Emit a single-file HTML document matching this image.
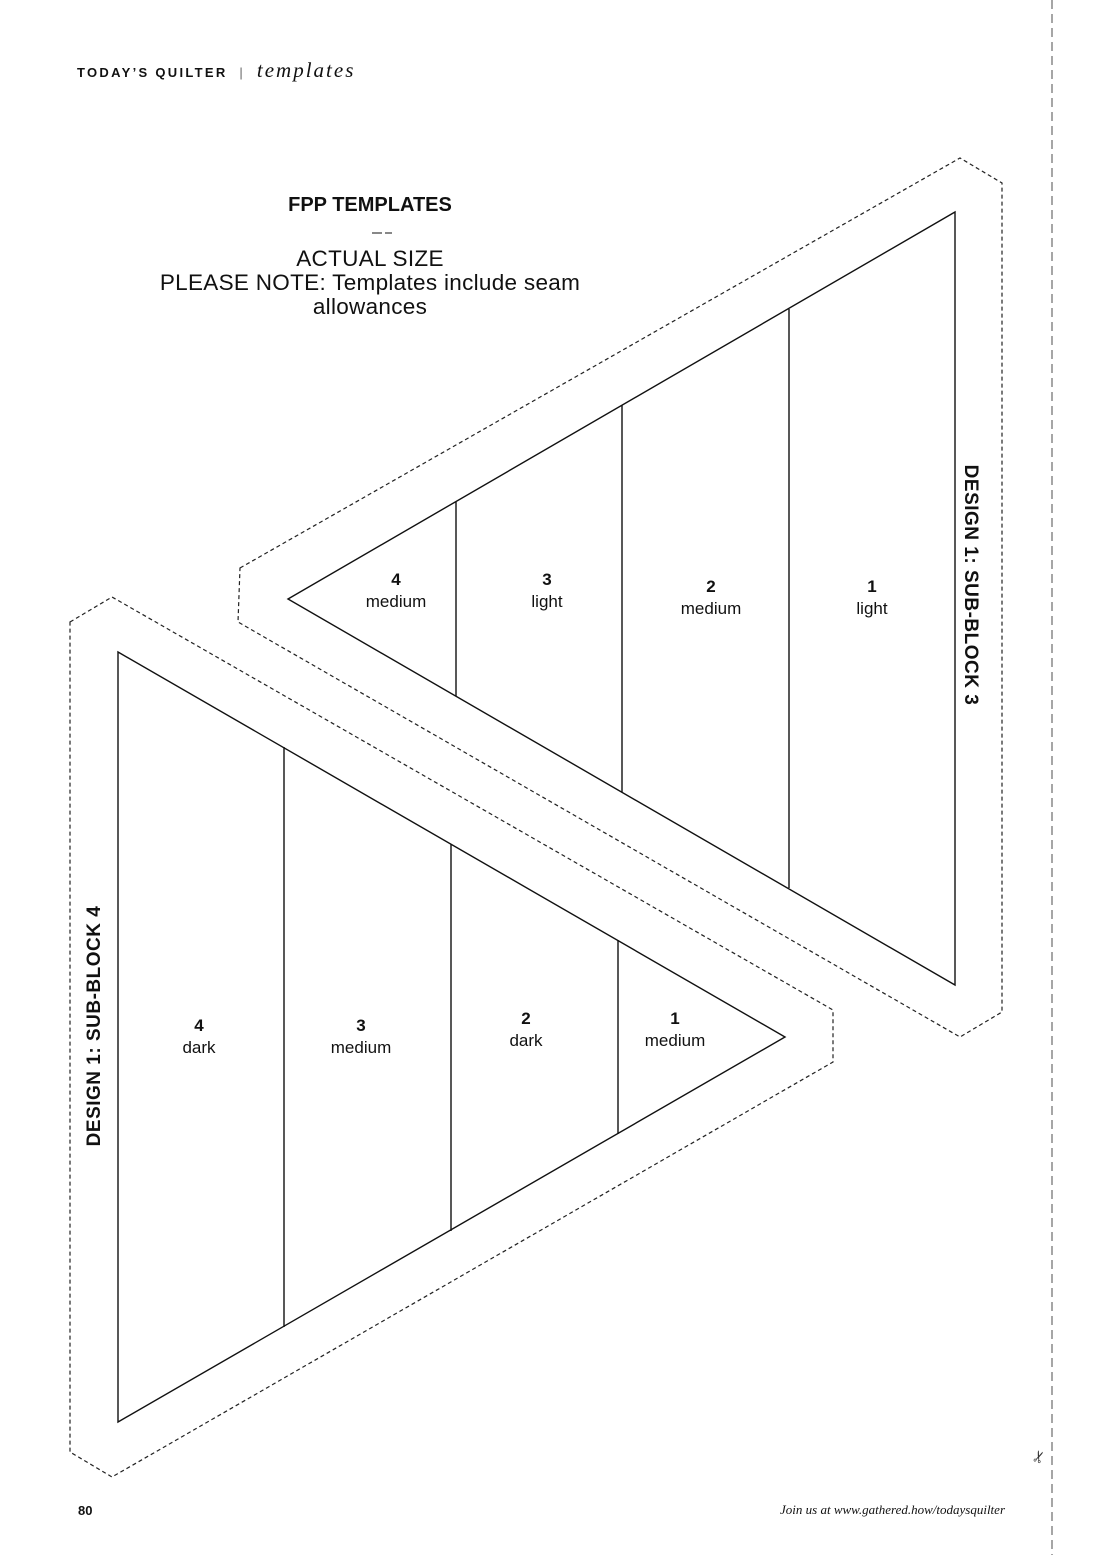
<!DOCTYPE html>
<html><head><meta charset="utf-8"><style>
body{margin:0;width:1100px;height:1555px;background:#fff;overflow:hidden;position:relative;font-family:"Liberation Sans",sans-serif;color:#111}
.t{position:absolute;white-space:nowrap}
</style></head><body>
<svg width="1100" height="1555" style="position:absolute;left:0;top:0">
<line x1="1052" y1="0" x2="1052" y2="1555" stroke="#888" stroke-width="1.5" stroke-dasharray="9,5"/>
<g fill="none" stroke="#222" stroke-width="1.2" stroke-dasharray="4,3">
<polygon points="240,568 960,158 1002,183 1002,1012 960,1037 238,622"/>
<polygon points="70,622 112,597 833,1010 833,1062 112,1477 70,1452"/>
</g>
<g fill="none" stroke="#111" stroke-width="1.4">
<polygon points="288,599 955,212 955,985"/>
<line x1="456" y1="502" x2="456" y2="696"/>
<line x1="622" y1="405" x2="622" y2="792"/>
<line x1="789" y1="309" x2="789" y2="888"/>
<polygon points="118,652 118,1422 785,1037"/>
<line x1="284" y1="747" x2="284" y2="1327"/>
<line x1="451" y1="844" x2="451" y2="1231"/>
<line x1="618" y1="940" x2="618" y2="1134"/>
</g>
<line x1="372" y1="233" x2="382" y2="233" stroke="#111"/><line x1="385" y1="233" x2="392" y2="233" stroke="#111"/>
<text x="1030" y="1462" font-size="16" fill="#333" transform="rotate(-70 1038 1455)">✂</text>
</svg>
<div class="t" style="left:77px;top:58px;font-size:13px;font-weight:bold;letter-spacing:2.3px">TODAY’S QUILTER <span style="font-weight:normal;color:#666">&nbsp;|&nbsp;</span> <span style="font-family:'Liberation Serif',serif;font-style:italic;font-weight:normal;font-size:21px;letter-spacing:2px">templates</span></div>
<div class="t" style="left:0;width:740px;top:194px;text-align:center;font-size:20px;font-weight:bold">FPP TEMPLATES</div>
<div class="t" style="left:0;width:740px;top:247px;text-align:center;font-size:22.5px;line-height:24px;letter-spacing:0.3px">ACTUAL SIZE<br>PLEASE NOTE: Templates include seam<br>allowances</div>
<div class="t" style="left:346px;width:100px;top:569px;text-align:center;font-size:17px;line-height:22px"><b>4</b><br>medium</div>
<div class="t" style="left:497px;width:100px;top:569px;text-align:center;font-size:17px;line-height:22px"><b>3</b><br>light</div>
<div class="t" style="left:661px;width:100px;top:576px;text-align:center;font-size:17px;line-height:22px"><b>2</b><br>medium</div>
<div class="t" style="left:822px;width:100px;top:576px;text-align:center;font-size:17px;line-height:22px"><b>1</b><br>light</div>
<div class="t" style="left:149px;width:100px;top:1015px;text-align:center;font-size:17px;line-height:22px"><b>4</b><br>dark</div>
<div class="t" style="left:311px;width:100px;top:1015px;text-align:center;font-size:17px;line-height:22px"><b>3</b><br>medium</div>
<div class="t" style="left:476px;width:100px;top:1008px;text-align:center;font-size:17px;line-height:22px"><b>2</b><br>dark</div>
<div class="t" style="left:625px;width:100px;top:1008px;text-align:center;font-size:17px;line-height:22px"><b>1</b><br>medium</div>
<div class="t" style="left:820px;top:574px;width:300px;text-align:center;font-size:19px;font-weight:bold;letter-spacing:0.5px;transform:rotate(90deg)">DESIGN 1: SUB-BLOCK 3</div>
<div class="t" style="left:-55px;top:1015px;width:300px;text-align:center;font-size:19px;font-weight:bold;letter-spacing:0.5px;transform:rotate(-90deg)">DESIGN 1: SUB-BLOCK 4</div>
<div class="t" style="left:78px;top:1503px;font-size:13px;font-weight:bold">80</div>
<div class="t" style="right:95px;top:1502px;font-size:13px;font-family:'Liberation Serif',serif;font-style:italic">Join us at www.gathered.how/todaysquilter</div>
</body></html>
